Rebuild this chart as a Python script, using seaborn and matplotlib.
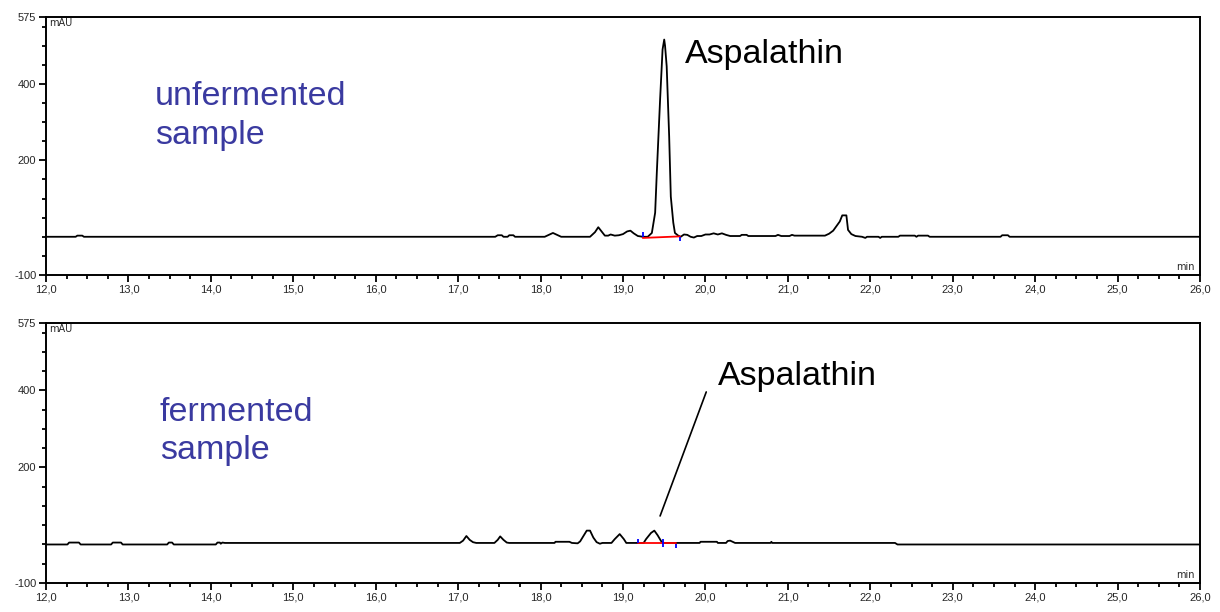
import matplotlib
matplotlib.use("Agg")
import matplotlib.pyplot as plt
from matplotlib.ticker import FixedLocator, MultipleLocator, FuncFormatter
import seaborn as sns
import pandas as pd

# unfermented sample trace (time in min, signal in mAU)
top_time = [12.0, 12.36, 12.38, 12.44, 12.46,
            17.45, 17.48, 17.53, 17.55, 17.60, 17.62, 17.67, 17.69,
            18.05, 18.10, 18.15, 18.20, 18.25,
            18.60, 18.66, 18.70, 18.74, 18.78, 18.82, 18.85, 18.90, 18.95, 19.00,
            19.05, 19.09, 19.13, 19.18, 19.24, 19.30, 19.35, 19.39, 19.41, 19.45,
            19.48, 19.50, 19.51, 19.53, 19.56, 19.58, 19.61, 19.63, 19.67, 19.70,
            19.74, 19.78, 19.82, 19.86, 19.90, 19.95, 20.00, 20.05, 20.10, 20.15,
            20.20, 20.25, 20.30, 20.42, 20.44, 20.50, 20.52, 20.85, 20.88, 20.92,
            21.02, 21.05, 21.08, 21.45, 21.50, 21.55, 21.63, 21.66, 21.71, 21.73,
            21.77, 21.82, 21.90, 21.94, 21.96, 22.10, 22.12, 22.14, 22.34, 22.36,
            22.54, 22.56, 22.58, 22.70, 22.72, 23.58, 23.60, 23.67, 23.69, 26.0]
top_mau = [0, 0, 3, 3, 0,
           0, 4, 4, 0, 0, 4, 4, 0,
           0, 5, 10, 5, 0,
           0, 12, 25, 14, 3, 3, 6, 3, 4, 7,
           14, 16, 9, 2, 0, 0, 10, 63, 167, 359,
           490, 516, 500, 446, 263, 105, 37, 10, 3, 0,
           6, 5, 0, -2, 2, 2, 6, 6, 9, 6,
           9, 5, 2, 2, 5, 5, 2, 2, 5, 2,
           2, 5, 3, 3, 8, 16, 40, 56, 56, 18,
           7, 2, 0, -3, 0, 0, -3, 0, 0, 3,
           3, 0, 3, 3, 0, 0, 4, 4, 0, 0]

# fermented sample trace
bot_time = [12.0, 12.26, 12.28, 12.40, 12.42, 12.79, 12.81, 12.91, 12.93,
            13.47, 13.49, 13.53, 13.55, 14.06, 14.08, 14.11, 14.12, 14.14, 14.17,
            17.02, 17.06, 17.10, 17.14, 17.18, 17.22,
            17.44, 17.48, 17.51, 17.55, 17.59, 17.62,
            18.17, 18.18, 18.35, 18.38, 18.45, 18.48, 18.52, 18.56, 18.60, 18.64,
            18.68, 18.72, 18.75, 18.86, 18.90, 18.96, 19.01, 19.04,
            19.25, 19.28, 19.34, 19.38, 19.42, 19.47, 19.50,
            19.93, 19.94, 20.14, 20.15, 20.25, 20.27, 20.30, 20.33, 20.36,
            20.79, 20.80, 20.81, 22.30, 22.33, 26.0]
bot_mau = [0, 0, 5, 5, 0, 0, 5, 5, 0,
           0, 5, 5, 0, 0, 5, 5, 2, 5, 4,
           4, 10, 22, 12, 6, 4,
           4, 12, 21, 12, 5, 4,
           4, 7, 7, 4, 3, 8, 22, 36, 36, 18,
           6, 2, 4, 4, 14, 27, 14, 4,
           4, 14, 30, 36, 24, 6, 4,
           4, 7, 7, 4, 4, 9, 10, 7, 4,
           4, 7, 4, 4, 0, 0]

# integration baselines (red) and peak marks (blue)
top_base_t = [19.24, 19.69]
top_base_v = [-3, 1]
top_mark_t = [19.24, 19.69]
top_mark_lo = [0, -12]
top_mark_hi = [13, 0]

bot_base_t = [19.18, 19.64]
bot_base_v = [3, 3]
bot_mark_t = [19.18, 19.48, 19.64]
bot_mark_lo = [4, -6, -8]
bot_mark_hi = [14, 14, 2]

x_ticks = [12, 13, 14, 15, 16, 17, 18, 19, 20, 21, 22, 23, 24, 25, 26]
y_ticks = [-100, 200, 400, 575]

sns.set_style("ticks")
plt.rcParams['font.family'] = ['Liberation Sans', 'DejaVu Sans']

fig = plt.figure(figsize=(12.2, 6.12), dpi=100)
ax_top = fig.add_axes([46 / 1220, 337 / 612, 1154 / 1220, 258 / 612])
ax_bot = fig.add_axes([46 / 1220, 29 / 612, 1154 / 1220, 260 / 612])

blue_txt = '#3a3aa0'


def style_axis(ax):
    ax.set_xlim(12, 26)
    ax.set_ylim(-100, 575)
    ax.xaxis.set_major_locator(FixedLocator(x_ticks))
    ax.xaxis.set_minor_locator(MultipleLocator(0.25))
    ax.yaxis.set_major_locator(FixedLocator(y_ticks))
    ax.yaxis.set_minor_locator(MultipleLocator(50))
    ax.xaxis.set_major_formatter(FuncFormatter(lambda v, p: f"{v:.1f}".replace('.', ',')))
    ax.yaxis.set_major_formatter(FuncFormatter(lambda v, p: f"{v:.0f}"))
    ax.tick_params(which='major', direction='out', length=5, width=1.3,
                   labelsize=8, pad=2, color='black')
    ax.tick_params(which='minor', direction='out', length=3, width=1.3, color='black')
    for s in ax.spines.values():
        s.set_visible(True)
        s.set_linewidth(1.4)
        s.set_color('black')
    ax.set_xlabel('')
    ax.set_ylabel('')
    ax.text(0.003, 0.995, 'mAU', transform=ax.transAxes, ha='left', va='top',
            fontsize=7, family=['DejaVu Sans'])
    ax.text(0.995, 0.01, 'min', transform=ax.transAxes, ha='right', va='bottom',
            fontsize=7, family=['DejaVu Sans'])


top_df = pd.DataFrame({'time': top_time, 'mAU': top_mau})
bot_df = pd.DataFrame({'time': bot_time, 'mAU': bot_mau})

sns.lineplot(data=top_df, x='time', y='mAU', ax=ax_top, color='black',
             linewidth=1.3, estimator=None, sort=False)
sns.lineplot(data=bot_df, x='time', y='mAU', ax=ax_bot, color='black',
             linewidth=1.3, estimator=None, sort=False)

ax_top.plot(top_base_t, top_base_v, color='red', lw=1.3)
ax_top.vlines(top_mark_t, top_mark_lo, top_mark_hi, color='blue', lw=1.3)
ax_bot.plot(bot_base_t, bot_base_v, color='red', lw=1.3)
ax_bot.vlines(bot_mark_t, bot_mark_lo, bot_mark_hi, color='blue', lw=1.3)

for ax in (ax_top, ax_bot):
    style_axis(ax)

ax_top.text(19.75, 478, 'Aspalathin', fontsize=24.5, ha='left', va='center', color='black')
ax_top.text(13.32, 316, 'unfermented\nsample', fontsize=24.5, ha='left', va='center',
            color=blue_txt, linespacing=1.3)

ax_bot.text(20.15, 437, 'Aspalathin', fontsize=24.5, ha='left', va='center', color='black')
ax_bot.plot([20.01, 19.45], [396, 74], color='black', lw=1.2)
ax_bot.text(13.38, 294, 'fermented\nsample', fontsize=24.5, ha='left', va='center',
            color=blue_txt, linespacing=1.3)

fig.savefig('out.png', dpi=100)
